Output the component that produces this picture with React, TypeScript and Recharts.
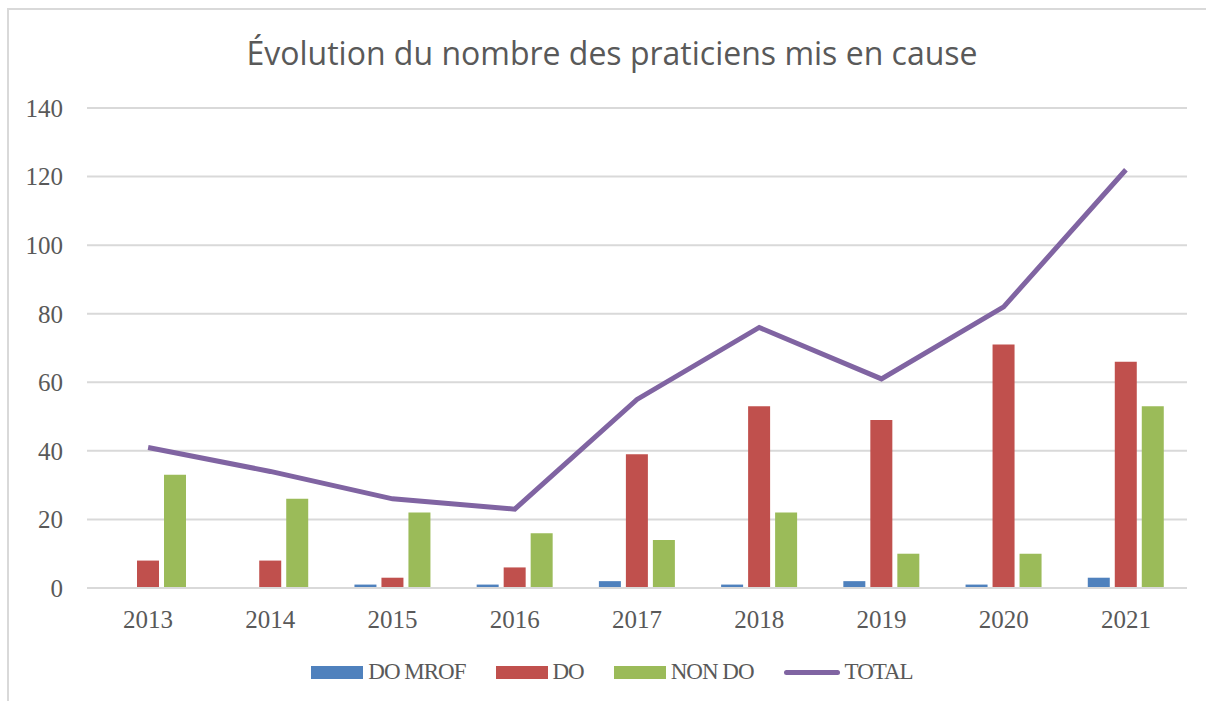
import React from 'react';
import { ComposedChart, Bar, Line, XAxis, YAxis, CartesianGrid, Legend } from 'recharts';

const YEARS = ['2013', '2014', '2015', '2016', '2017', '2018', '2019', '2020', '2021'];
const DO_MROF = [0, 0, 1, 1, 2, 1, 2, 1, 3];
const DO = [8, 8, 3, 6, 39, 53, 49, 71, 66];
const NON_DO = [33, 26, 22, 16, 14, 22, 10, 10, 53];
const TOTAL = [41, 34, 26, 23, 55, 76, 61, 82, 122];
const Y_TICKS = [0, 20, 40, 60, 80, 100, 120, 140];

const BLUE = '#4F81BD';
const RED = '#C0504D';
const GREEN = '#9BBB59';
const PURPLE = '#8064A2';
const TEXT = '#595959';
const GRID = '#d9d9d9';

const data = YEARS.map((year, i) => ({
  year,
  doMrof: DO_MROF[i],
  do: DO[i],
  nonDo: NON_DO[i],
  total: TOTAL[i]
}));

const LEGEND_ITEMS = [
  { label: 'DO MROF', color: BLUE, type: 'rect' },
  { label: 'DO', color: RED, type: 'rect' },
  { label: 'NON DO', color: GREEN, type: 'rect' },
  { label: 'TOTAL', color: PURPLE, type: 'line' }
];

const tickStyle = { fill: TEXT, fontSize: 25, fontFamily: '"Liberation Serif", serif' };

const ChartLegend = () => (
  <div
    style={{
      display: 'flex',
      justifyContent: 'center',
      alignItems: 'center',
      fontFamily: '"Liberation Serif", serif',
      fontSize: 23,
      letterSpacing: -1,
      color: TEXT
    }}
  >
    {LEGEND_ITEMS.map((item, i) => (
      <div key={item.label} style={{ display: 'flex', alignItems: 'center', marginLeft: i === 0 ? 0 : 30 }}>
        {item.type === 'rect' ? (
          <span style={{ display: 'inline-block', width: 52, height: 13, background: item.color }} />
        ) : (
          <span style={{ display: 'inline-block', width: 56, height: 5, borderRadius: 3, background: item.color }} />
        )}
        <span style={{ marginLeft: 5 }}>{item.label}</span>
      </div>
    ))}
  </div>
);

export default function App() {
  return (
    <div style={{ position: 'absolute', left: 0, top: 0, width: 1206, height: 701, background: '#fff', overflow: 'hidden' }}>
      {/* frame */}
      <div
        style={{
          position: 'absolute',
          left: 7,
          top: 8,
          width: 1230,
          height: 720,
          border: `2px solid ${GRID}`
        }}
      />
      <div
        style={{
          position: 'absolute',
          left: 0,
          top: 31,
          width: 1224,
          textAlign: 'center',
          fontFamily: '"Open Sans", sans-serif',
          fontSize: 32,
          color: TEXT,
          whiteSpace: 'nowrap'
        }}
      >
        Évolution du nombre des praticiens mis en cause
      </div>
      <div style={{ position: 'absolute', left: 0, top: 0 }}>
        <ComposedChart
          width={1206}
          height={701}
          data={data}
          margin={{ top: 108, right: 19, left: 0, bottom: 83 }}
          barGap={5}
        >
          <CartesianGrid vertical={false} stroke={GRID} strokeWidth={2} />
          <XAxis
            dataKey="year"
            axisLine={{ stroke: GRID, strokeWidth: 2 }}
            tickLine={false}
            tick={tickStyle}
            tickMargin={16}
            height={30}
            interval={0}
          />
          <YAxis
            domain={[0, 140]}
            ticks={Y_TICKS}
            axisLine={false}
            tickLine={false}
            tick={tickStyle}
            tickMargin={18}
            width={87}
          />
          <Legend
            verticalAlign="middle"
            align="center"
            content={() => <ChartLegend />}
            wrapperStyle={{ position: 'absolute', left: 0, top: 659, width: 1224 }}
          />
          <Bar dataKey="doMrof" name="DO MROF" fill={BLUE} barSize={22} isAnimationActive={false} />
          <Bar dataKey="do" name="DO" fill={RED} barSize={22} isAnimationActive={false} />
          <Bar dataKey="nonDo" name="NON DO" fill={GREEN} barSize={22} isAnimationActive={false} />
          <Line
            dataKey="total"
            name="TOTAL"
            type="linear"
            stroke={PURPLE}
            strokeWidth={5}
            dot={false}
            activeDot={false}
            isAnimationActive={false}
          />
        </ComposedChart>
      </div>
    </div>
  );
}
